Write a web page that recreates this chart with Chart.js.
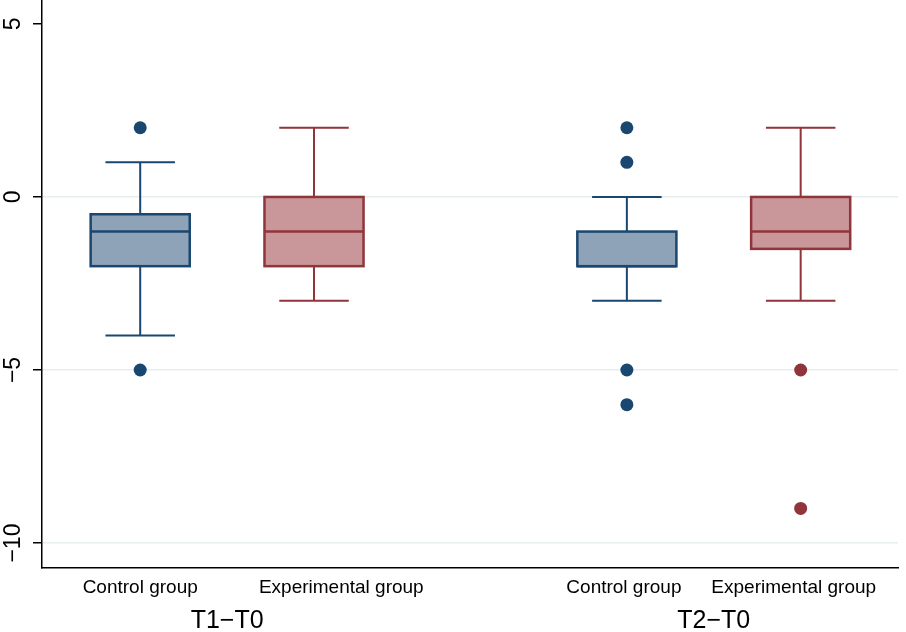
<!DOCTYPE html>
<html>
<head>
<meta charset="utf-8">
<script src="https://cdn.jsdelivr.net/npm/chart.js@4.4.1/dist/chart.umd.min.js"></script>
<style>
body { margin: 0; background: #fff; }
#wrap { width: 906px; height: 632px; }
</style>
</head>
<body>
<div id="wrap"><canvas id="box-chart" width="906" height="632"></canvas></div>
<script>
// box plot data
var groups = ['Control group', 'Experimental group', 'Control group', 'Experimental group'];
var periods = ['T1\u2212T0', 'T2\u2212T0'];
var slots = [0, 1, 2.8, 3.8];
var whiskerLow = [-4, -3, -3, -3];
var q1 = [-2, -2, -2, -1.5];
var medians = [-1, -1, -2, -1];
var q3 = [-0.5, 0, -1, 0];
var whiskerHigh = [1, 2, 0, 2];
var outliers = [[2, -5], [], [2, 1, -5, -6], [-5, -9]];
var yTicks = [5, 0, -5, -10];
var yTickLabels = ['5', '0', '\u22125', '\u221210'];

var FONT = "'Liberation Sans', Arial, sans-serif";
var lineCol = ['#1a476f', '#90353b'];
var fillCol = ['#8fa3b8', '#c9979a'];
// Stata puts the category labels slightly off the box centres
var labelShift = [0, 0.157, -0.017, -0.04];

function outlierPoints(kind) {
    var pts = [];
    for (var i = 0; i < slots.length; i++) {
        if (i % 2 !== kind) continue;
        outliers[i].forEach(function(v) { pts.push({ x: slots[i], y: v }); });
    }
    return pts;
}

var boxPlugin = {
    id: 'boxes',
    beforeDatasetsDraw: function(chart) {
        var ctx = chart.ctx;
        var xs = chart.scales.x, ys = chart.scales.y;
        var boxHalf = 0.285, capHalf = 0.2;
        for (var i = 0; i < slots.length; i++) {
            var k = i % 2;
            var xc = xs.getPixelForValue(slots[i]);
            var bl = xs.getPixelForValue(slots[i] - boxHalf), br = xs.getPixelForValue(slots[i] + boxHalf);
            var cl = xs.getPixelForValue(slots[i] - capHalf), cr = xs.getPixelForValue(slots[i] + capHalf);
            var yq1 = ys.getPixelForValue(q1[i]), yq3 = ys.getPixelForValue(q3[i]);
            var ylo = ys.getPixelForValue(whiskerLow[i]), yhi = ys.getPixelForValue(whiskerHigh[i]);
            var ymed = ys.getPixelForValue(medians[i]);
            ctx.save();
            ctx.strokeStyle = lineCol[k];
            ctx.lineWidth = 2;
            ctx.beginPath();
            ctx.moveTo(xc, yq3); ctx.lineTo(xc, yhi);
            ctx.moveTo(cl, yhi); ctx.lineTo(cr, yhi);
            ctx.moveTo(xc, yq1); ctx.lineTo(xc, ylo);
            ctx.moveTo(cl, ylo); ctx.lineTo(cr, ylo);
            ctx.stroke();
            ctx.fillStyle = fillCol[k];
            ctx.fillRect(bl, yq3, br - bl, yq1 - yq3);
            ctx.lineWidth = 2.5;
            ctx.strokeRect(bl, yq3, br - bl, yq1 - yq3);
            ctx.beginPath();
            ctx.moveTo(bl, ymed); ctx.lineTo(br, ymed);
            ctx.stroke();
            ctx.restore();
        }
    },
    afterDraw: function(chart) {
        var ctx = chart.ctx;
        var xs = chart.scales.x, ys = chart.scales.y;
        ctx.save();
        ctx.fillStyle = '#000';
        ctx.textAlign = 'center';
        ctx.textBaseline = 'middle';
        ctx.font = '23px ' + FONT;
        yTicks.forEach(function(v, i) {
            ctx.save();
            ctx.translate(14, ys.getPixelForValue(v));
            ctx.rotate(-Math.PI / 2);
            ctx.fillText(yTickLabels[i], 0, 0);
            ctx.restore();
        });
        ctx.font = '25px ' + FONT;
        periods.forEach(function(p, j) {
            var mid = (slots[2 * j] + slots[2 * j + 1]) / 2;
            ctx.fillText(p, xs.getPixelForValue(mid), 621);
        });
        ctx.restore();
    }
};

new Chart(document.getElementById('box-chart').getContext('2d'), {
    type: 'scatter',
    data: {
        datasets: [{
            label: 'Control group',
            data: outlierPoints(0),
            backgroundColor: lineCol[0],
            borderWidth: 0,
            pointRadius: 6.5
        }, {
            label: 'Experimental group',
            data: outlierPoints(1),
            backgroundColor: lineCol[1],
            borderWidth: 0,
            pointRadius: 6.5
        }]
    },
    options: {
        responsive: false,
        animation: false,
        layout: { autoPadding: false, padding: { top: 0, right: 8, left: 0, bottom: 0 } },
        plugins: { legend: { display: false }, tooltip: { enabled: false } },
        scales: {
            x: {
                type: 'linear',
                min: -0.565,
                max: 4.36,
                afterBuildTicks: function(scale) {
                    scale.ticks = slots.map(function(v, i) { return { value: v + labelShift[i] }; });
                },
                afterFit: function(scale) { scale.height = 64; },
                ticks: {
                    autoSkip: false,
                    maxRotation: 0,
                    padding: 8,
                    color: '#000',
                    font: { family: FONT, size: 19 },
                    callback: function(v, i) { return groups[i]; }
                },
                grid: { display: false, drawTicks: false },
                border: { display: true, color: '#000', width: 1.5 }
            },
            y: {
                min: -10.72,
                max: 5.69,
                afterBuildTicks: function(scale) {
                    scale.ticks = yTicks.map(function(v) { return { value: v }; });
                },
                afterFit: function(scale) { scale.width = 42; },
                ticks: { display: false },
                grid: {
                    color: function(c) { return c.tick && c.tick.value === 5 ? 'rgba(0,0,0,0)' : '#e6eef0'; },
                    lineWidth: 1.5,
                    drawTicks: true,
                    tickLength: 9,
                    tickColor: '#000',
                    tickWidth: 1.5
                },
                border: { display: true, color: '#000', width: 1.5 }
            }
        }
    },
    plugins: [boxPlugin]
});
</script>
</body>
</html>
